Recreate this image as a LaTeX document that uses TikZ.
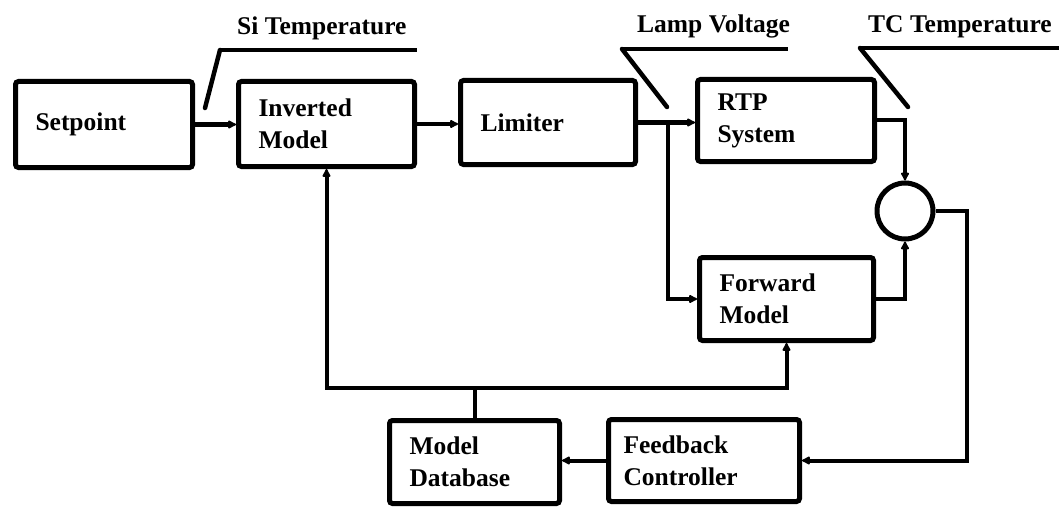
\documentclass[tikz,border=0pt]{standalone}
\usepackage{fontspec}
\setmainfont{Liberation Serif}
\usetikzlibrary{arrows.meta,calc}
\begin{document}
\begin{tikzpicture}[x=1pt,y=-1pt,
  blk/.style={draw, line width=5pt, rounded corners=3pt, align=left, inner xsep=20pt, inner ysep=0pt,
    font=\fontsize{25.5}{32}\selectfont\bfseries, anchor=center},
  wire/.style={line width=4pt},
  arr/.style={wire, -{Latex[length=10pt,width=10pt,round]}},
  lead/.style={line width=4.5pt, line cap=round, line join=round},
  uline/.style={line width=3.5pt},
  lbl/.style={font=\fontsize{25.5}{32}\selectfont\bfseries, anchor=base west, inner sep=0pt}]
\useasboundingbox (0,0) rectangle (1059,508);

% blocks
\node[blk, text width=137pt, minimum height=86pt] (sp)  at (104,124.5) {\raisebox{-6pt}{Setpoint}};
\node[blk, text width=136pt, minimum height=85pt] (inv) at (326.5,124) {Inverted\\Model};
\node[blk, text width=135pt, minimum height=84pt] (lim) at (548,122.5) {\raisebox{-5pt}{Limiter}};
\node[blk, text width=137pt, minimum height=82pt] (rtp) at (786,120.5) {RTP\\System};
\node[blk, text width=134pt, minimum height=83pt] (fm)  at (786.5,299) {Forward\\Model};
\node[blk, text width=130pt, minimum height=83pt] (db)  at (474.5,462) {Model\\Database};
\node[blk, inner xsep=15pt, text width=161pt, minimum height=82pt] (fc) at (704,460.5) {Feedback\\Controller};
\node[draw, circle, line width=5pt, minimum size=56pt, inner sep=0pt] (sum) at (905,211) {};

% signal labels
\node[lbl] (silbl) at (237,35) {Si Temperature};
\node[lbl] (lvlbl) at (637,33) {Lamp Voltage};
\node[lbl] (tclbl) at (868,33) {TC Temperature};

\coordinate (si1) at (220,50);  \coordinate (si2) at (417,50);  \coordinate (si3) at (205,108);
\coordinate (lv1) at (622,49);  \coordinate (lv2) at (788,49);  \coordinate (lv3) at (667,107);
\coordinate (tc1) at (860,48);  \coordinate (tc2) at (1059,48); \coordinate (tc3) at (908,107);
\draw[uline] (si1) -- (si2);
\draw[lead] (si3) -- (si1);
\draw[uline] (lv1) -- (lv2);
\draw[lead] (lv3) -- (lv1);
\draw[uline] (tc1) -- (tc2);
\draw[lead] (tc3) -- (tc1);

% connectors
\draw[arr] (sp.east) -- (sp.east -| inv.west);
\draw[arr] (inv.east) -- (inv.east -| lim.west);
\coordinate (j1) at ($(lim.east)!0.53!(lim.east -| rtp.west)$);
\draw[arr] (lim.east) -- (lim.east -| rtp.west);
\draw[wire] (j1) |- ($(fm.west)+(-8,0)$);
\draw[arr] ($(fm.west)+(-9,0)$) -- (fm.west);
\draw[arr] (rtp.east) -| (sum.north);
\draw[arr] (fm.east) -| (sum.south);
\coordinate (c1) at ($(sum.east)+(31,0)$);
\draw[arr] (sum.east) -- (c1) |- (fc.east);
\draw[arr] (fc.west) -- (fc.west -| db.east);
\coordinate (j2) at (db.north |- 0,388);
\draw[wire] (db.north) -- (j2);
\draw[arr] (j2) -| (inv.south);
\draw[arr] (j2) -| (fm.south);
\end{tikzpicture}
\end{document}
